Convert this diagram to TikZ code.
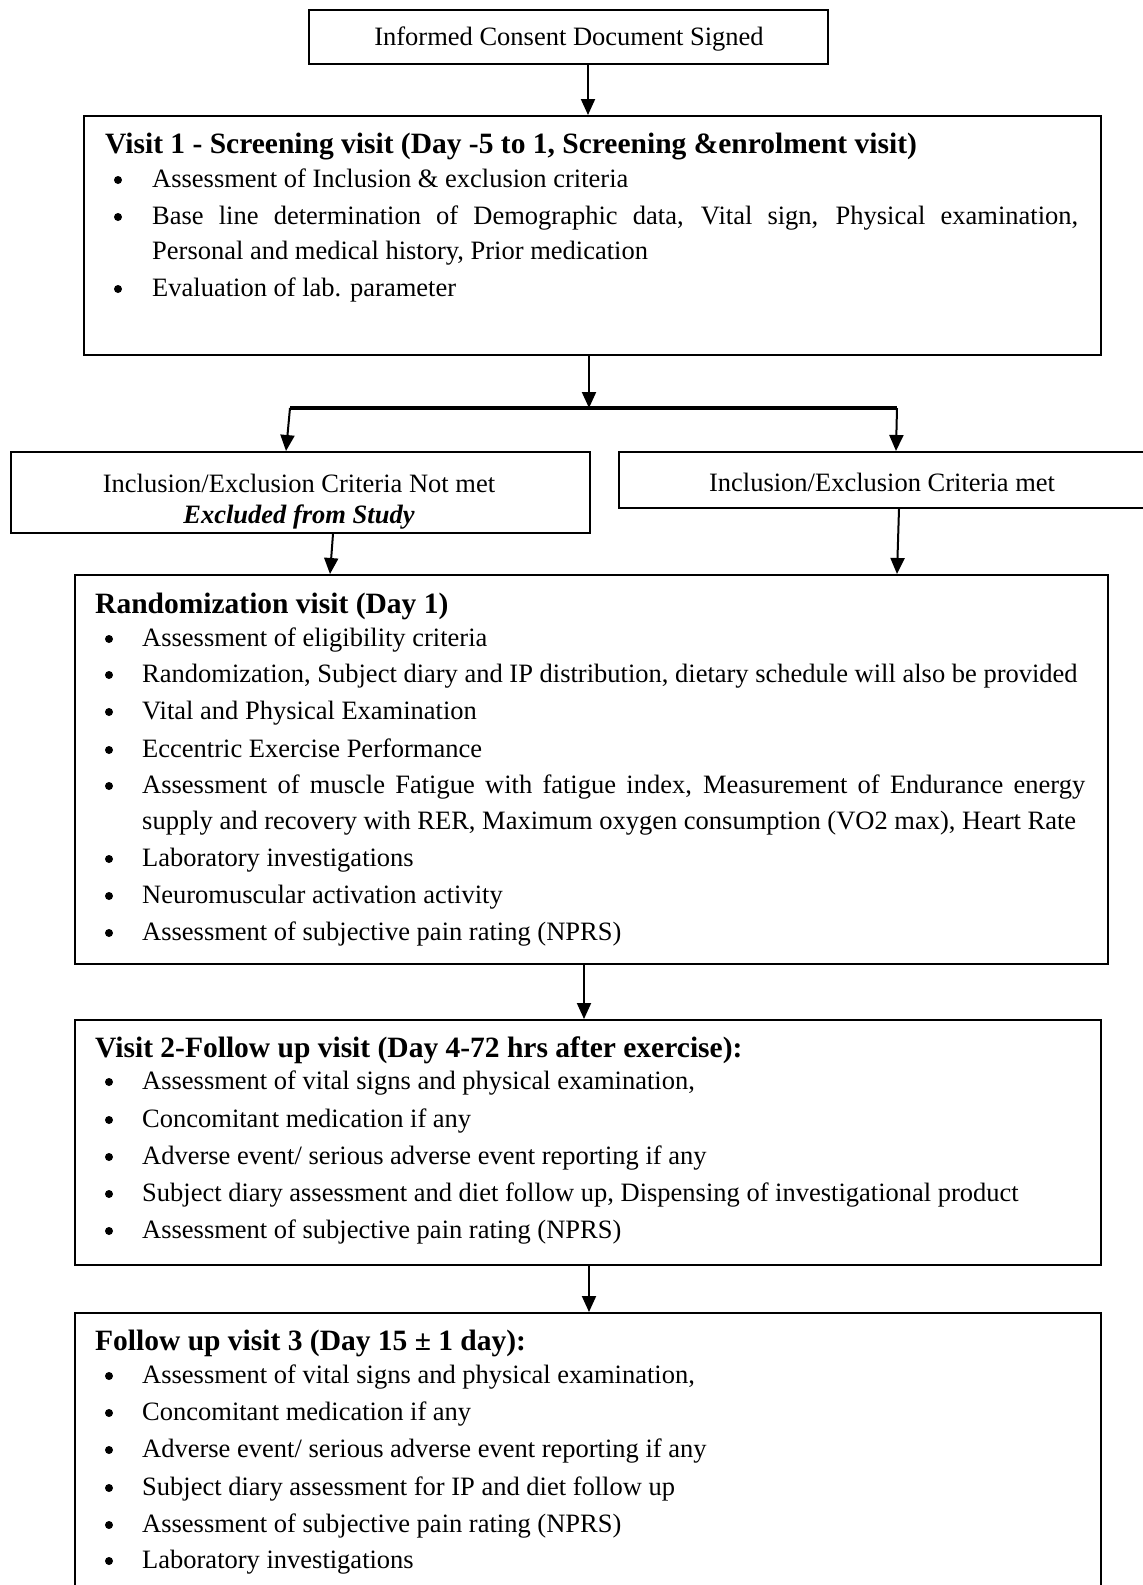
\documentclass[tikz,border=0pt]{standalone}
\usepackage{fontspec}
\setmainfont{Liberation Serif}
\usetikzlibrary{arrows.meta}
\tikzset{
  box/.style={draw, line width=2pt, rectangle, inner sep=0pt, anchor=north west},
  body/.style={font=\fontsize{26.5}{31}\selectfont, inner sep=0pt, anchor=mid west, yshift=-7pt},
  ctext/.style={font=\fontsize{26.5}{31}\selectfont, inner sep=0pt, anchor=mid, yshift=-7pt},
  ttl/.style={font=\fontsize{29.5}{34}\selectfont\bfseries, inner sep=0pt, anchor=mid west, yshift=-7pt},
  bul/.style={circle, fill=black, inner sep=0pt, minimum size=8pt, yshift=-2pt},
  arr/.style={line width=2pt, -{Triangle[length=16pt,width=14pt]}},
  branch/.style={line width=3.5pt}
}
\begin{document}
\begin{tikzpicture}[x=1pt,y=-1pt]
\useasboundingbox (0,0) rectangle (1143,1585);
\clip (0,0) rectangle (1143,1585);
\fill[white] (0,0) rectangle (1143,1585);

% boxes
\node[box, minimum width=519pt, minimum height=54pt] (consent) at (308,9) {};
\node[ctext] (consentT) at (569,36) {Informed Consent Document Signed};

\node[box, minimum width=1017pt, minimum height=239pt] (v1) at (83,115) {};
\node[ttl] (v1T) at (105,144) {Visit 1 - Screening visit (Day -5 to 1, Screening \&enrolment visit)};
\node[bul] (v1b1) at (118,178) {};
\node[body] (v1l1) at (152,178) {Assessment of Inclusion \& exclusion criteria};
\node[bul] (v1b2) at (118,215) {};
\node[body] (v1l2) at (152,215) {\makebox[926pt][s]{Base line determination of Demographic data, Vital sign, Physical examination,}};
\node[body] (v1l2b) at (152,250) {Personal and medical history, Prior medication};
\node[bul] (v1b3) at (118,287) {};
\node[body] (v1l3) at (152,287) {Evaluation of lab. parameter};

\node[box, minimum width=579pt, minimum height=81pt] (notmet) at (10,451) {};
\node[ctext] (notmetT1) at (299,483) {Inclusion/Exclusion Criteria Not met};
\node[ctext] (notmetT2) at (299,514) {\textbf{\textit{Excluded from Study}}};

\node[box, minimum width=545pt, minimum height=56pt] (met) at (618,451) {};
\node[ctext] (metT) at (882,482) {Inclusion/Exclusion Criteria met};

\node[box, minimum width=1033pt, minimum height=389pt] (rand) at (74,574) {};
\node[ttl] (randT) at (95,604) {Randomization visit (Day 1)};
\foreach \yy/\nm in {637/1,673/2,710/3,748/4,784/5,857/6,894/7,931/8}{
  \node[bul] (rb\nm) at (109,\yy) {};
}
\node[body] (rl1) at (142,637) {Assessment of eligibility criteria};
\node[body] (rl2) at (142,673) {Randomization, Subject diary and IP distribution, dietary schedule will also be provided};
\node[body] (rl3) at (142,710) {Vital and Physical Examination};
\node[body] (rl4) at (142,748) {Eccentric Exercise Performance};
\node[body] (rl5) at (142,784) {\makebox[943pt][s]{Assessment of muscle Fatigue with fatigue index, Measurement of Endurance energy}};
\node[body] (rl5b) at (142,820) {supply and recovery with RER, Maximum oxygen consumption (VO2 max), Heart Rate};
\node[body] (rl6) at (142,857) {Laboratory investigations};
\node[body] (rl7) at (142,894) {Neuromuscular activation activity};
\node[body] (rl8) at (142,931) {Assessment of subjective pain rating (NPRS)};

\node[box, minimum width=1026pt, minimum height=245pt] (v2) at (74,1019) {};
\node[ttl] (v2T) at (95,1048) {Visit 2-Follow up visit (Day 4-72 hrs after exercise):};
\foreach \yy/\nm in {1080/1,1118/2,1155/3,1192/4,1229/5}{
  \node[bul] (v2b\nm) at (109,\yy) {};
}
\node[body] (v2l1) at (142,1080) {Assessment of vital signs and physical examination,};
\node[body] (v2l2) at (142,1118) {Concomitant medication if any};
\node[body] (v2l3) at (142,1155) {Adverse event/ serious adverse event reporting if any};
\node[body] (v2l4) at (142,1192) {Subject diary assessment and diet follow up, Dispensing of investigational product};
\node[body] (v2l5) at (142,1229) {Assessment of subjective pain rating (NPRS)};

\node[box, minimum width=1026pt, minimum height=400pt] (v3) at (74,1312) {};
\node[ttl] (v3T) at (95,1341) {Follow up visit 3 (Day 15 ± 1 day):};
\foreach \yy/\nm in {1374/1,1411/2,1448/3,1486/4,1523/5,1559/6}{
  \node[bul] (v3b\nm) at (109,\yy) {};
}
\node[body] (v3l1) at (142,1374) {Assessment of vital signs and physical examination,};
\node[body] (v3l2) at (142,1411) {Concomitant medication if any};
\node[body] (v3l3) at (142,1448) {Adverse event/ serious adverse event reporting if any};
\node[body] (v3l4) at (142,1486) {Subject diary assessment for IP and diet follow up};
\node[body] (v3l5) at (142,1523) {Assessment of subjective pain rating (NPRS)};
\node[body] (v3l6) at (142,1559) {Laboratory investigations};

% connectors
\coordinate (br) at (589,408);
\coordinate (brL) at (290,408);
\coordinate (brR) at (897,408);
\draw[arr] (consent.south -| 588,0) -- (v1.north -| 588,0);
\draw[arr] (v1.south -| 589,0) -- (br);
\draw[branch] (brL) -- (brR);
\draw[arr] (brL) -- (notmet.north -| 286,0);
\draw[arr] (brR) -- (met.north -| 896,0);
\draw[arr] (notmet.south -| 333,0) -- (rand.north -| 330,0);
\draw[arr] (met.south -| 899,0) -- (rand.north -| 897,0);
\draw[arr] (rand.south -| 584,0) -- (v2.north -| 584,0);
\draw[arr] (v2.south -| 589,0) -- (v3.north -| 589,0);
\end{tikzpicture}
\end{document}
